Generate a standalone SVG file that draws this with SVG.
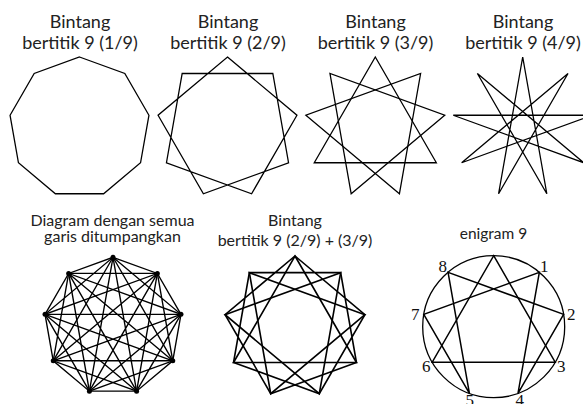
<svg xmlns="http://www.w3.org/2000/svg" xmlns:xlink="http://www.w3.org/1999/xlink" width="583" height="404" viewBox="0 0 583 404">
<style>
.t{font-family:Lato,"Liberation Sans",sans-serif;fill:#222;text-anchor:middle}
.t1{font-size:18px}
.t2{font-size:16px}
.t3{font-size:15.5px}
.n{font-family:"Liberation Serif","DejaVu Serif",serif;font-size:17px;fill:#111;text-anchor:middle}
.s{fill:none;stroke:#000;stroke-linejoin:miter}
</style>
<defs>
<polygon id="s1" points="0,-70.5 45.32,-54 69.43,-12.24 61.05,35.25 24.11,66.25 -24.11,66.25 -61.05,35.25 -69.43,-12.24 -45.32,-54"/>
<polygon id="s2" points="0,-70.5 69.43,-12.24 24.11,66.25 -61.05,35.25 -45.32,-54 45.32,-54 61.05,35.25 -24.11,66.25 -69.43,-12.24"/>
<g id="s3"><polygon points="0,-70.5 61.05,35.25 -61.05,35.25"/><polygon points="45.32,-54 24.11,66.25 -69.43,-12.24"/><polygon points="69.43,-12.24 -24.11,66.25 -45.32,-54"/></g>
<polygon id="s4" points="0,-70.5 24.11,66.25 -45.32,-54 61.05,35.25 -69.43,-12.24 69.43,-12.24 -61.05,35.25 45.32,-54 -24.11,66.25"/>
</defs>

<g id="star1">
<text class="t t1" x="80" y="28">Bintang</text>
<text class="t t1" x="80" y="49">bertitik 9 (1/9)</text>
<use xlink:href="#s1" class="s" stroke-width="1.3" transform="translate(79.5,127.5)"/>
</g>
<g id="star2">
<text class="t t1" x="228" y="28">Bintang</text>
<text class="t t1" x="228" y="49">bertitik 9 (2/9)</text>
<use xlink:href="#s2" class="s" stroke-width="1.3" transform="translate(227.5,127.5)"/>
</g>
<g id="star3">
<text class="t t1" x="375.5" y="28">Bintang</text>
<text class="t t1" x="375.5" y="49">bertitik 9 (3/9)</text>
<use xlink:href="#s3" class="s" stroke-width="1.3" transform="translate(375.3,127.5)"/>
</g>
<g id="star4">
<text class="t t1" x="523" y="28">Bintang</text>
<text class="t t1" x="523" y="49">bertitik 9 (4/9)</text>
<use xlink:href="#s4" class="s" stroke-width="1.3" transform="translate(522.7,127.5)"/>
</g>

<g id="all">
<text class="t t2" x="112.5" y="225.5">Diagram dengan semua</text>
<text class="t t2" x="112.5" y="242">garis ditumpangkan</text>
<g class="s" stroke-width="1.4" transform="translate(113,326.3) scale(0.979)">
<use xlink:href="#s1"/><use xlink:href="#s2"/><use xlink:href="#s3"/><use xlink:href="#s4"/>
</g>
<g fill="#000" transform="translate(113,326.3)">
<circle cx="0" cy="-69" r="2.5"/><circle cx="44.35" cy="-52.85" r="2.5"/><circle cx="67.95" cy="-11.98" r="2.5"/><circle cx="59.75" cy="34.5" r="2.5"/><circle cx="23.6" cy="64.84" r="2.5"/><circle cx="-23.6" cy="64.84" r="2.5"/><circle cx="-59.75" cy="34.5" r="2.5"/><circle cx="-67.95" cy="-11.98" r="2.5"/><circle cx="-44.35" cy="-52.85" r="2.5"/>
</g>
</g>

<g id="star23">
<text class="t t2" x="295" y="226">Bintang</text>
<text class="t t2" x="295" y="246">bertitik 9 (2/9) + (3/9)</text>
<g class="s" stroke-width="1.6" transform="translate(295,327) scale(1.007)">
<use xlink:href="#s2"/><use xlink:href="#s3"/>
</g>
</g>

<g id="enneagram">
<text class="t t3" x="493.5" y="239">enigram 9</text>
<g class="s" stroke-width="1.5" transform="translate(493.7,326.7)">
<circle cx="0" cy="0" r="71" stroke-width="1.3"/>
<polygon points="0,-71 61.49,35.5 -61.49,35.5"/>
<polygon points="45.64,-54.39 24.28,66.72 69.92,-12.33 -45.64,-54.39 -24.28,66.72 -69.92,-12.33"/>
</g>
<g transform="translate(493.7,332.7)">
<text class="n" x="50.5" y="-61">1</text>
<text class="n" x="77.5" y="-12.5">2</text>
<text class="n" x="67.5" y="39">3</text>
<text class="n" x="26" y="73">4</text>
<text class="n" x="-24" y="73">5</text>
<text class="n" x="-67.5" y="39">6</text>
<text class="n" x="-78.5" y="-12.5">7</text>
<text class="n" x="-51" y="-61">8</text>
</g>
</g>
</svg>
